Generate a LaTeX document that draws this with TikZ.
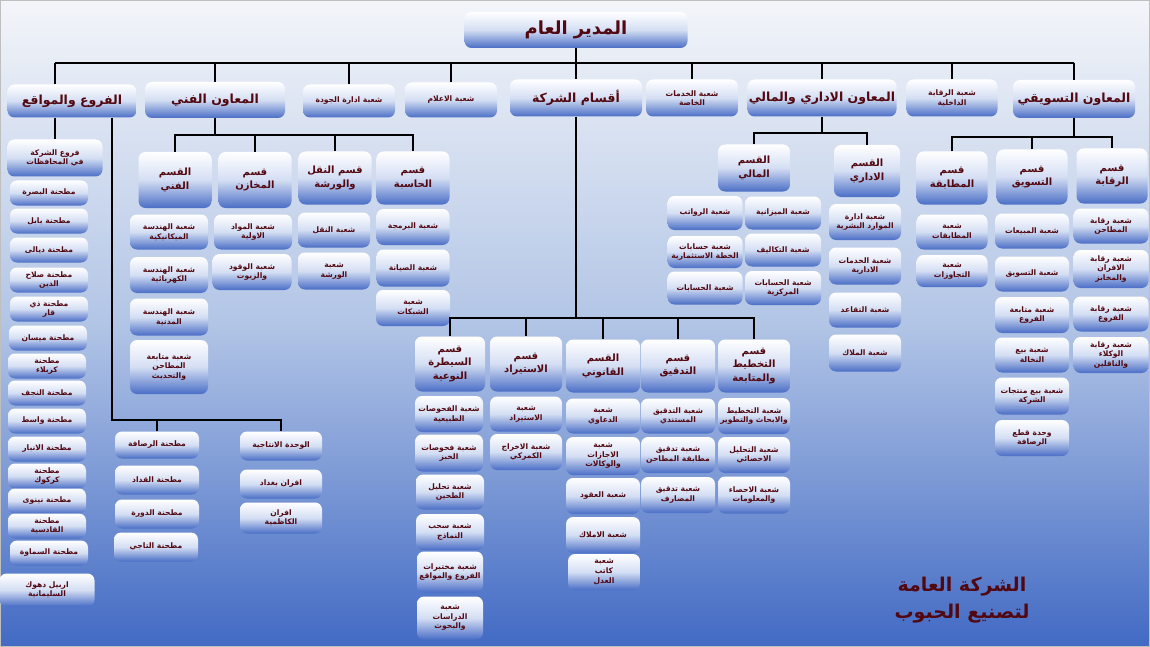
\documentclass[tikz,border=0pt]{standalone}
\usepackage{fontspec}
\usepackage{tikz}
\newfontfamily\arabicfont[Script=Arabic]{DejaVu Sans}
\TeXXeTstate=1
\definecolor{txtred}{RGB}{82,8,16}
\definecolor{boxblue}{RGB}{74,110,198}
\definecolor{boxmid}{RGB}{212,222,243}
\definecolor{bgtop}{RGB}{243,245,249}
\definecolor{bgmid}{RGB}{178,197,230}
\definecolor{bgbot}{RGB}{66,106,196}

\begin{document}
\begin{tikzpicture}[x=1pt,y=-1pt,
  box/.style={rounded corners=7pt,top color=white,bottom color=boxblue,middle color=boxmid,
    text=txtred,align=center,inner sep=1pt},
  lead/.style={box,minimum height=36,font=\arabicfont\bfseries\fontsize{12.5}{14}\selectfont},
  sect/.style={box,minimum width=73,minimum height=53,font=\arabicfont\bfseries\fontsize{10}{13.5}\selectfont},
  unit/.style={box,minimum width=74,minimum height=35,font=\arabicfont\bfseries\fontsize{7.6}{9.6}\selectfont},
  mill/.style={box,minimum width=78,minimum height=25,font=\arabicfont\bfseries\fontsize{7.6}{9}\selectfont},
  link/.style={line width=2.6pt}]
  \useasboundingbox (0,0) rectangle (1150,647);
  \shade[top color=bgtop,bottom color=bgbot,middle color=bgmid] (0,0) rectangle (1150,647);
  \draw[black!25,line width=1pt] (0.5,0.5) rectangle (1149.5,646.5);

  % top row
  \node[lead,minimum width=223,font=\arabicfont\bfseries\fontsize{18}{20}\selectfont] (gm) at (576,30) {\beginR المدير العام\endR};
  \node[lead,minimum width=129,minimum height=33] (branches) at (72,101) {\beginR الفروع والمواقع\endR};
  \node[lead,minimum width=140] (tech) at (215,100) {\beginR المعاون الفني\endR};
  \node[unit,minimum width=92,minimum height=33] (quality) at (349,101) {\beginR شعبة ادارة الجودة\endR};
  \node[unit,minimum width=92] (media) at (451,100) {\beginR شعبة الاعلام\endR};
  \node[lead,minimum width=132,minimum height=37] (depts) at (576,98) {\beginR أقسام الشركة\endR};
  \node[unit,minimum width=92,minimum height=37] (special) at (692,98) {\beginR شعبة الخدمات\endR\\\beginR الخاصة\endR};
  \node[lead,minimum width=149,minimum height=37] (admin) at (822,98) {\beginR المعاون الاداري والمالي\endR};
  \node[unit,minimum width=91,minimum height=37] (audit) at (952,98) {\beginR شعبة الرقابة\endR\\\beginR الداخلية\endR};
  \node[lead,minimum width=122,minimum height=38] (mkt) at (1074,99) {\beginR المعاون التسويقي\endR};

  % branches and sites
  \node[unit,minimum width=95,minimum height=37] (govs) at (55,158) {\beginR فروع الشركة\endR\\\beginR في المحافظات\endR};
  \node[mill] (m1) at (49,193) {\beginR مطحنة البصرة\endR};
  \node[mill] (m2) at (49,221) {\beginR مطحنة بابل\endR};
  \node[mill] (m3) at (49,250) {\beginR مطحنة ديالى\endR};
  \node[mill] (m4) at (49,280) {\beginR مطحنة صلاح\endR\\\beginR الدين\endR};
  \node[mill] (m5) at (49,309) {\beginR مطحنة ذي\endR\\\beginR قار\endR};
  \node[mill] (m6) at (48,338) {\beginR مطحنة ميسان\endR};
  \node[mill] (m7) at (47,366) {\beginR مطحنة\endR\\\beginR كربلاء\endR};
  \node[mill] (m8) at (47,393) {\beginR مطحنة النجف\endR};
  \node[mill] (m9) at (47,421) {\beginR مطحنة واسط\endR};
  \node[mill] (m10) at (47,449) {\beginR مطحنة الانبار\endR};
  \node[mill] (m11) at (47,476) {\beginR مطحنة\endR\\\beginR كركوك\endR};
  \node[mill] (m12) at (47,501) {\beginR مطحنة نينوى\endR};
  \node[mill] (m13) at (47,526) {\beginR مطحنة\endR\\\beginR القادسية\endR};
  \node[mill] (m14) at (49,553) {\beginR مطحنة السماوة\endR};
  \node[mill,minimum width=95,minimum height=33] (m15) at (47,590) {\beginR اربيل دهوك\endR\\\beginR السليمانية\endR};
  \node[mill,minimum width=84,minimum height=27] (b1) at (157,445) {\beginR مطحنة الرصافة\endR};
  \node[mill,minimum width=84,minimum height=29] (b2) at (157,480) {\beginR مطحنة القداد\endR};
  \node[mill,minimum width=84,minimum height=29] (b3) at (157,514) {\beginR مطحنة الدورة\endR};
  \node[mill,minimum width=84,minimum height=29] (b4) at (156,547) {\beginR مطحنة التاجي\endR};
  \node[mill,minimum width=82,minimum height=29] (p1) at (281,446) {\beginR الوحدة الانتاجية\endR};
  \node[mill,minimum width=82,minimum height=29] (p2) at (281,484) {\beginR افران بغداد\endR};
  \node[mill,minimum width=82,minimum height=31] (p3) at (281,518) {\beginR افران\endR\\\beginR الكاظمية\endR};

  % technical assistant
  \node[sect,minimum height=56] (s1) at (175,180) {\beginR القسم\endR\\\beginR الفني\endR};
  \node[sect,minimum height=56] (s2) at (255,180) {\beginR قسم\endR\\\beginR المخازن\endR};
  \node[sect] (s3) at (335,178) {\beginR قسم النقل\endR\\\beginR والورشة\endR};
  \node[sect] (s4) at (413,178) {\beginR قسم\endR\\\beginR الحاسبة\endR};
  \node[unit,minimum width=78] (t1) at (169,232) {\beginR شعبة الهندسة\endR\\\beginR الميكانيكية\endR};
  \node[unit,minimum width=78,minimum height=36] (t2) at (169,275) {\beginR شعبة الهندسة\endR\\\beginR الكهربائية\endR};
  \node[unit,minimum width=78,minimum height=37] (t3) at (169,317) {\beginR شعبة الهندسة\endR\\\beginR المدنية\endR};
  \node[unit,minimum width=78,minimum height=54] (t4) at (169,367) {\beginR شعبة متابعة\endR\\\beginR المطاحن\endR\\\beginR والتحديث\endR};
  \node[unit,minimum width=78] (w1) at (253,232) {\beginR شعبة المواد\endR\\\beginR الاولية\endR};
  \node[unit,minimum width=79,minimum height=36] (w2) at (252,272) {\beginR شعبة الوقود\endR\\\beginR والزيوت\endR};
  \node[unit,minimum width=72] (n1) at (334,230) {\beginR شعبة النقل\endR};
  \node[unit,minimum width=72,minimum height=37] (n2) at (334,271) {\beginR شعبة\endR\\\beginR الورشة\endR};
  \node[unit,minimum width=73,minimum height=36] (c1) at (413,227) {\beginR شعبة البرمجة\endR};
  \node[unit,minimum width=73,minimum height=37] (c2) at (413,268) {\beginR شعبة الصيانة\endR};
  \node[unit,minimum width=74,minimum height=36] (c3) at (413,308) {\beginR شعبة\endR\\\beginR الشبكات\endR};

  % company departments
  \node[sect,minimum width=70,minimum height=55] (d1) at (450,364) {\beginR قسم\endR\\\beginR السيطرة\endR\\\beginR النوعية\endR};
  \node[sect,minimum width=72,minimum height=55] (d2) at (526,364) {\beginR قسم\endR\\\beginR الاستيراد\endR};
  \node[sect,minimum width=74] (d3) at (603,366) {\beginR القسم\endR\\\beginR القانوني\endR};
  \node[sect,minimum width=74] (d4) at (678,366) {\beginR قسم\endR\\\beginR التدقيق\endR};
  \node[sect,minimum width=72] (d5) at (754,366) {\beginR قسم\endR\\\beginR التخطيط\endR\\\beginR والمتابعة\endR};
  \node[unit,minimum width=68,minimum height=36] (q1) at (449,414) {\beginR شعبة الفحوصات\endR\\\beginR الطبيعية\endR};
  \node[unit,minimum width=68,minimum height=37] (q2) at (449,453) {\beginR شعبة فحوصات\endR\\\beginR الخبز\endR};
  \node[unit,minimum width=68] (q3) at (450,492) {\beginR شعبة تحليل\endR\\\beginR الطحين\endR};
  \node[unit,minimum width=68,minimum height=36] (q4) at (450,532) {\beginR شعبة سحب\endR\\\beginR النماذج\endR};
  \node[unit,minimum width=66,minimum height=41] (q5) at (450,572) {\beginR شعبة مختبرات\endR\\\beginR الفروع والمواقع\endR};
  \node[unit,minimum width=66,minimum height=43] (q6) at (450,618) {\beginR شعبة\endR\\\beginR الدراسات\endR\\\beginR والبحوث\endR};
  \node[unit,minimum width=72] (i1) at (526,414) {\beginR شعبة\endR\\\beginR الاستيراد\endR};
  \node[unit,minimum width=72,minimum height=36] (i2) at (526,452) {\beginR شعبة الاخراج\endR\\\beginR الكمركي\endR};
  \node[unit] (l1) at (603,416) {\beginR شعبة\endR\\\beginR الدعاوي\endR};
  \node[unit,minimum height=38] (l2) at (603,456) {\beginR شعبة\endR\\\beginR الاجازات\endR\\\beginR والوكالات\endR};
  \node[unit,minimum height=36] (l3) at (603,496) {\beginR شعبة العقود\endR};
  \node[unit,minimum height=36] (l4) at (603,535) {\beginR شعبة الاملاك\endR};
  \node[unit,minimum width=72,minimum height=36] (l5) at (604,572) {\beginR شعبة\endR\\\beginR كاتب\endR\\\beginR العدل\endR};
  \node[unit] (a1) at (678,416) {\beginR شعبة التدقيق\endR\\\beginR المستندي\endR};
  \node[unit,minimum height=36] (a2) at (678,455) {\beginR شعبة تدقيق\endR\\\beginR مطابقة المطاحن\endR};
  \node[unit,minimum height=36] (a3) at (678,495) {\beginR شعبة تدقيق\endR\\\beginR المصارف\endR};
  \node[unit,minimum width=72,minimum height=36] (e1) at (754,416) {\beginR شعبة التخطيط\endR\\\beginR والابحاث والتطوير\endR};
  \node[unit,minimum width=72,minimum height=36] (e2) at (754,455) {\beginR شعبة التحليل\endR\\\beginR الاحصائي\endR};
  \node[unit,minimum width=72,minimum height=37] (e3) at (754,495) {\beginR شعبة الاحصاء\endR\\\beginR والمعلومات\endR};

  % administrative and financial assistant
  \node[sect,minimum width=72,minimum height=47] (fin) at (754,168) {\beginR القسم\endR\\\beginR المالي\endR};
  \node[sect,minimum width=66,minimum height=52] (adm) at (867,171) {\beginR القسم\endR\\\beginR الاداري\endR};
  \node[unit,minimum width=76,minimum height=33] (f1) at (783,213) {\beginR شعبة الميزانية\endR};
  \node[unit,minimum width=76,minimum height=33] (f2) at (783,250) {\beginR شعبة التكاليف\endR};
  \node[unit,minimum width=76,minimum height=34] (f3) at (783,288) {\beginR شعبة الحسابات\endR\\\beginR المركزية\endR};
  \node[unit,minimum width=75,minimum height=34] (f4) at (705,213) {\beginR شعبة الرواتب\endR};
  \node[unit,minimum width=75,minimum height=32] (f5) at (705,252) {\beginR شعبة حسابات\endR\\\beginR الخطة الاستثمارية\endR};
  \node[unit,minimum width=75,minimum height=33] (f6) at (705,288) {\beginR شعبة الحسابات\endR};
  \node[unit,minimum width=72,minimum height=36] (r1) at (865,222) {\beginR شعبة ادارة\endR\\\beginR الموارد البشرية\endR};
  \node[unit,minimum width=72,minimum height=37] (r2) at (865,266) {\beginR شعبة الخدمات\endR\\\beginR الادارية\endR};
  \node[unit,minimum width=72,minimum height=35] (r3) at (865,310) {\beginR شعبة التقاعد\endR};
  \node[unit,minimum width=72,minimum height=37] (r4) at (865,353) {\beginR شعبة الملاك\endR};

  % marketing assistant
  \node[sect,minimum width=71] (k1) at (952,178) {\beginR قسم\endR\\\beginR المطابقة\endR};
  \node[sect,minimum width=71,minimum height=55] (k2) at (1032,177) {\beginR قسم\endR\\\beginR التسويق\endR};
  \node[sect,minimum width=71,minimum height=55] (k3) at (1112,176) {\beginR قسم\endR\\\beginR الرقابة\endR};
  \node[unit,minimum width=71] (g1) at (952,232) {\beginR شعبة\endR\\\beginR المطابقات\endR};
  \node[unit,minimum width=71,minimum height=32] (g2) at (952,271) {\beginR شعبة\endR\\\beginR التجاوزات\endR};
  \node[unit] (h1) at (1032,231) {\beginR شعبة المبيعات\endR};
  \node[unit] (h2) at (1032,274) {\beginR شعبة التسويق\endR};
  \node[unit,minimum height=36] (h3) at (1032,315) {\beginR شعبة متابعة\endR\\\beginR الفروع\endR};
  \node[unit] (h4) at (1032,355) {\beginR شعبة بيع\endR\\\beginR النخالة\endR};
  \node[unit,minimum height=37] (h5) at (1032,396) {\beginR شعبة بيع منتجات\endR\\\beginR الشركة\endR};
  \node[unit,minimum height=36] (h6) at (1032,438) {\beginR وحدة قطع\endR\\\beginR الرصافة\endR};
  \node[unit,minimum width=75] (v1) at (1111,226) {\beginR شعبة رقابة\endR\\\beginR المطاحن\endR};
  \node[unit,minimum width=75,minimum height=38] (v2) at (1111,269) {\beginR شعبة رقابة\endR\\\beginR الافران\endR\\\beginR والمخابز\endR};
  \node[unit,minimum width=75] (v3) at (1111,314) {\beginR شعبة رقابة\endR\\\beginR الفروع\endR};
  \node[unit,minimum width=75,minimum height=36] (v4) at (1111,355) {\beginR شعبة رقابة\endR\\\beginR الوكلاء\endR\\\beginR والناقلين\endR};

  \node[font=\arabicfont\bfseries\fontsize{19}{27}\selectfont,text=txtred,align=center] (firm) at (962,600)
    {\beginR الشركة العامة\endR\\\beginR لتصنيع الحبوب\endR};

  % connectors
  \coordinate (bus0) at (0,63);
  \coordinate (bus1) at (112,420);
  \coordinate (bus2) at (0,135);
  \coordinate (bus3) at (0,133);
  \coordinate (bus4) at (0,137);
  \coordinate (bus5) at (0,318);
  \draw[link] (govs.north |- bus0) -- (mkt.north |- bus0);
  \draw[link] (gm.south) -- (depts.north);
  \foreach \n in {tech,quality,media,special,admin,audit,mkt}
    \draw[link] (\n.north) -- (\n.north |- bus0);
  \draw[link] (govs.north |- bus0) -- (govs.north |- branches.north);
  \draw[link] (govs.north |- branches.south) -- (govs.north);
  \draw[link] (bus1 |- branches.south) -- (bus1) -- (bus1 -| p1.north) -- (p1.north);
  \draw[link] (b1.north) -- (b1.north |- bus1);
  \draw[link] (tech.south) -- (tech.south |- bus2);
  \draw[link] (s1.north) -- (s1.north |- bus2) -- (s4.north |- bus2) -- (s4.north);
  \foreach \n in {s2,s3}
    \draw[link] (\n.north) -- (\n.north |- bus2);
  \draw[link] (admin.south) -- (admin.south |- bus3);
  \draw[link] (fin.north) -- (fin.north |- bus3) -- (adm.north |- bus3) -- (adm.north);
  \draw[link] (mkt.south) -- (mkt.south |- bus4);
  \draw[link] (k1.north) -- (k1.north |- bus4) -- (k3.north |- bus4) -- (k3.north);
  \draw[link] (k2.north) -- (k2.north |- bus4);
  \draw[link] (depts.south) -- (depts.south |- bus5);
  \draw[link] (d1.north) -- (d1.north |- bus5) -- (d5.north |- bus5) -- (d5.north);
  \foreach \n in {d2,d3,d4}
    \draw[link] (\n.north) -- (\n.north |- bus5);
\end{tikzpicture}
\end{document}
